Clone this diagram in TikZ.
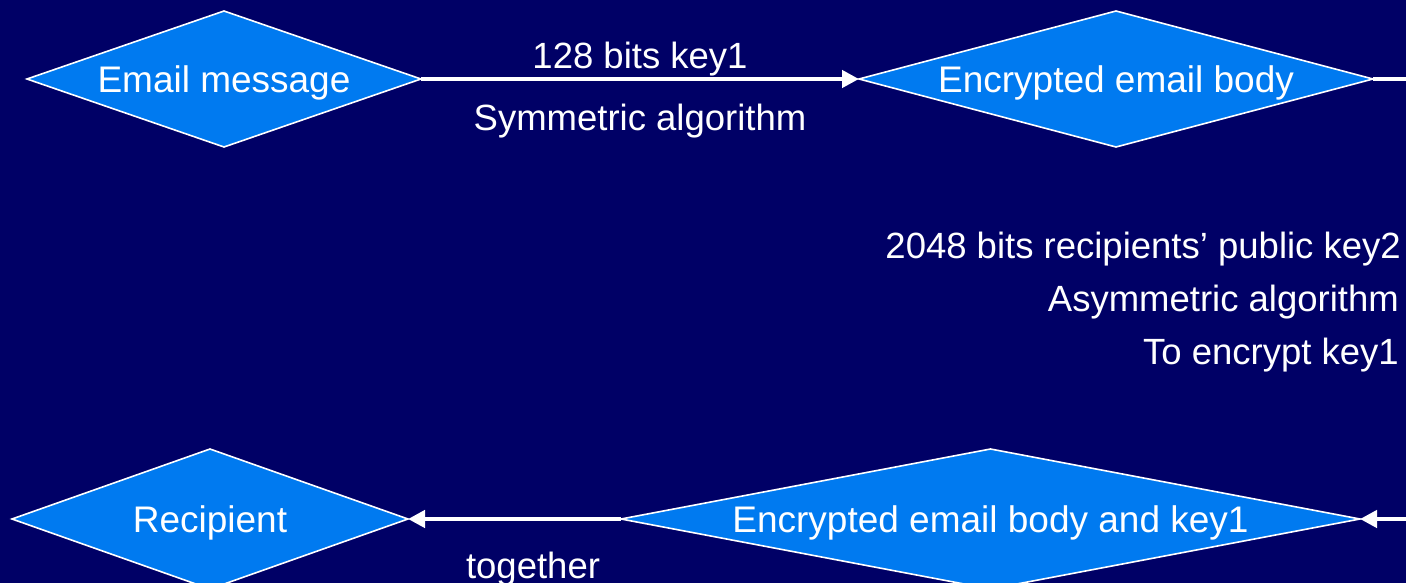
\documentclass[tikz,border=0pt]{standalone}
\usepackage{fontspec}
\setmainfont{Liberation Sans}
\usetikzlibrary{shapes.geometric,arrows.meta}
\definecolor{bgnavy}{RGB}{0,0,102}
\definecolor{dfill}{RGB}{0,122,240}
\begin{document}
\begin{tikzpicture}[x=1pt,y=-1pt,
  dnode/.style={diamond, draw=white, line width=1.6pt, fill=dfill, text=white,
    inner sep=0pt, outer sep=0pt, font=\fontsize{37}{44}\selectfont,
    text height=28pt, text depth=1pt},
  lbl/.style={text=white, font=\fontsize{36.5}{44}\selectfont, inner sep=0pt},
  conn/.style={white, line width=4.5pt, -{Triangle[length=17pt,width=17pt]}},
  plainline/.style={white, line width=4.5pt}]
\useasboundingbox (0,0) rectangle (1406,583);
\clip (0,0) rectangle (1406,583);
\fill[bgnavy] (0,0) rectangle (1406,583);

\node[dnode, minimum width=394pt, minimum height=136pt, aspect=2.9] (d1) at (224,79) {Email message};
\node[dnode, minimum width=514pt, minimum height=136pt, aspect=3.78] (d2) at (1116,79) {Encrypted email body};
\node[dnode, minimum width=396pt, minimum height=140pt, aspect=2.87] (d3) at (210,519) {Recipient};
\node[dnode, minimum width=739pt, minimum height=140pt, aspect=5.3] (d4) at (990.5,519) {Encrypted email body and key1};

\coordinate (r1) at (1406,79);
\coordinate (r2) at (1406,519);

\draw[conn] (d1.east) -- (d2.west);
\draw[plainline] (d2.east) -- (r1);
\draw[conn] (r2) -- (d4.east);
\draw[conn] (d4.west) -- (d3.east);

\node[lbl, anchor=base] (l1) at (640,69) {128 bits key1};
\node[lbl, anchor=base] (l2) at (640,131) {Symmetric algorithm};
\node[lbl, anchor=base east] (l3) at (1401,258) {2048 bits recipients’ public key2};
\node[lbl, anchor=base east] (l4) at (1399,311) {Asymmetric algorithm};
\node[lbl, anchor=base east] (l5) at (1399,364) {To encrypt key1};
\node[lbl, anchor=base] (l6) at (533,578) {together};
\end{tikzpicture}
\end{document}
